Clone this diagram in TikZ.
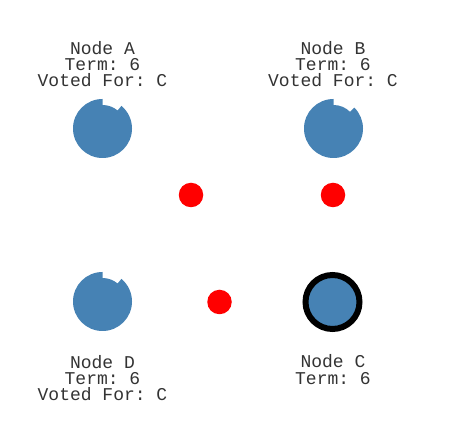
\documentclass[tikz,border=0pt]{standalone}
\usepackage{fontspec}
\setmonofont{Liberation Mono}
\usetikzlibrary{positioning}
\definecolor{serverblue}{HTML}{4682B4}
\tikzset{
  leader/.style={circle, fill=serverblue, draw=black, line width=6pt, minimum size=54pt, inner sep=0pt},
  msg/.style={circle, fill=red, minimum size=24.5pt, inner sep=0pt},
  caption/.style={font=\ttfamily\fontsize{18}{16.3}\selectfont, align=center, inner sep=0pt, text=black!80, anchor=base}
}
% follower with its election timer notch: centre, notch angle
\newcommand{\follower}[2]{%
  \fill[serverblue] ([shift={(90:29.5pt)}]#1) arc[start angle=90, end angle=360+#2, radius=29.5pt]
    -- ([shift={(#2:23.5pt)}]#1) arc[start angle=#2, end angle=90, radius=23.5pt] -- cycle;}

\begin{document}
\begin{tikzpicture}[x=1pt, y=1pt]
  \useasboundingbox (0, 0) rectangle (453, 447);

  \coordinate (a) at (102.5, 318.5);
  \coordinate (b) at (333.5, 318.5);
  \coordinate (d) at (102.5, 145.5);
  \follower{a}{50}
  \follower{b}{45}
  \follower{d}{50}
  \node [leader] (c) at (332.5, 145) {};

  \node [msg] (m1) at (191, 252) {};
  \node [msg] (m2) at (333, 252) {};
  \node [msg] (m3) at (219.5, 145) {};

  % anchor base = baseline of the last line
  \node [caption] (la) at (102.5, 360.3) {Node A\\Term: 6\\Voted For: C};
  \node [caption] (lb) at (333, 360.3) {Node B\\Term: 6\\Voted For: C};
  \node [caption] (ld) at (102.5, 46.3) {Node D\\Term: 6\\Voted For: C};
  \node [caption] (lc) at (333, 62.7) {Node C\\Term: 6};
\end{tikzpicture}
\end{document}
